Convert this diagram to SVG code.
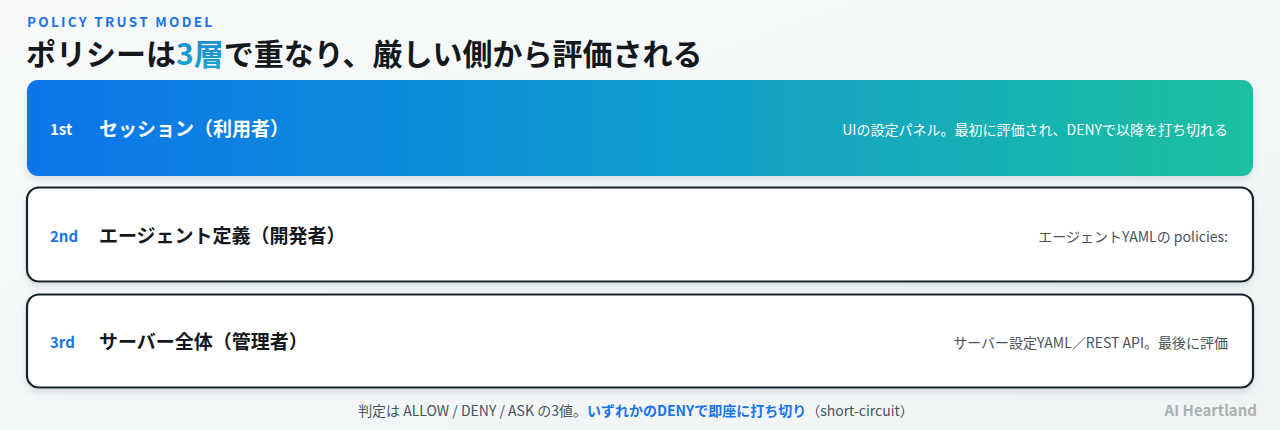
<svg xmlns="http://www.w3.org/2000/svg" width="1280" height="430" viewBox="0 0 1280 430">
<defs>
<linearGradient id="bg" x1="0" y1="0" x2="1" y2="1">
<stop offset="0" stop-color="#f7f9fa"/>
<stop offset="1" stop-color="#f1f4f5"/>
</linearGradient>
<linearGradient id="g1" x1="0" y1="0" x2="1" y2="0">
<stop offset="0" stop-color="#0a74ea"/>
<stop offset="0.5" stop-color="#0f9bd0"/>
<stop offset="1" stop-color="#1dc0a0"/>
</linearGradient>
<linearGradient id="gt" x1="0" y1="0" x2="1" y2="1">
<stop offset="0" stop-color="#1a7ee8"/>
<stop offset="1" stop-color="#18c0b0"/>
</linearGradient>
<filter id="sh" x="-5%" y="-20%" width="110%" height="150%">
<feDropShadow dx="0" dy="4" stdDeviation="3" flood-color="#8a98a6" flood-opacity="0.25"/>
</filter>
</defs>
<style>
.jp{font-family:"Noto Sans CJK JP","Noto Sans",sans-serif}
.kick{font-size:13.5px;font-weight:700;fill:#1a74e8;letter-spacing:2.3px}
.title{font-size:30px;font-weight:700;fill:#14181d}
.ord{font-size:15px;font-weight:700}
.name{font-size:19px;font-weight:700}
.desc{font-size:14px;fill:#4a525c}
.card{fill:#ffffff;stroke:#17202b;stroke-width:2.2}
.foot{font-size:14px;fill:#4a525c}
</style>
<rect width="1280" height="430" fill="url(#bg)"/>
<g id="header">
<text class="jp kick" x="27" y="27">POLICY TRUST MODEL</text>
<text class="jp title" x="26" y="65">ポリシーは<tspan fill="url(#gt)">3層</tspan>で重なり、厳しい側から評価される</text>
</g>
<g id="connectors"></g>
<g id="layer1">
<rect x="27" y="80" width="1226" height="96" rx="11" fill="url(#g1)" filter="url(#sh)"/>
<text class="jp ord" x="50" y="135" fill="#ffffff">1st</text>
<text class="jp name" x="99" y="136" fill="#ffffff">セッション（利用者）</text>
<text class="jp desc" x="1228" y="135" text-anchor="end" style="fill:#ffffff">UIの設定パネル。最初に評価され、DENYで以降を打ち切れる</text>
</g>
<g id="layer2">
<rect class="card" x="27" y="187.5" width="1226" height="94" rx="12" filter="url(#sh)"/>
<text class="jp ord" x="50" y="242" fill="#1a74e8">2nd</text>
<text class="jp name" x="99" y="243" fill="#14181d">エージェント定義（開発者）</text>
<text class="jp desc" x="1228" y="242" text-anchor="end">エージェントYAMLの policies:</text>
</g>
<g id="layer3">
<rect class="card" x="27" y="294.5" width="1226" height="93" rx="12" filter="url(#sh)"/>
<text class="jp ord" x="50" y="348" fill="#1a74e8">3rd</text>
<text class="jp name" x="99" y="349" fill="#14181d">サーバー全体（管理者）</text>
<text class="jp desc" x="1228" y="348" text-anchor="end">サーバー設定YAML／REST API。最後に評価</text>
</g>
<g id="footer">
<text class="jp foot" x="636" y="416" text-anchor="middle">判定は ALLOW / DENY / ASK の3値。<tspan font-weight="700" fill="#1a74e8">いずれかのDENYで即座に打ち切り</tspan>（short-circuit）</text>
<text class="jp" x="1257" y="416" text-anchor="end" font-size="15" font-weight="700" fill="#a9b1b1">AI Heartland</text>
</g>
</svg>
